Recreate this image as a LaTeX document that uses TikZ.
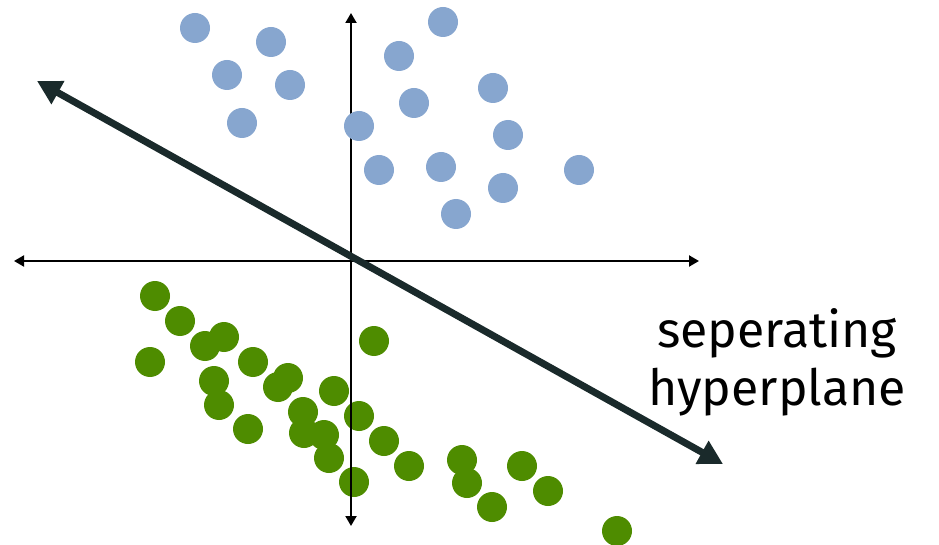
\documentclass[tikz,border=0pt]{standalone}
\usepackage{fontspec}
\setmainfont{Fira Sans}
\usetikzlibrary{arrows.meta}
\definecolor{bluedot}{HTML}{87A6CF}
\definecolor{greendot}{HTML}{4E8C00}
\definecolor{hyper}{HTML}{1A2A2B}
\tikzset{
  bdot/.style={circle,fill=bluedot,inner sep=0pt,minimum size=30pt},
  gdot/.style={circle,fill=greendot,inner sep=0pt,minimum size=30pt},
  axisline/.style={line width=2pt,-{Triangle[length=10pt,width=11pt]}},
  hyperline/.style={line width=7pt,color=hyper,{Triangle[length=24pt,width=25pt]}-{Triangle[length=24pt,width=25pt]}},
  labeltext/.style={align=center,font=\fontsize{50pt}{58pt}\selectfont}
}
\begin{document}
\begin{tikzpicture}[x=1pt,y=-1pt]
\useasboundingbox (0,0) rectangle (939,545);
% green dots
\foreach \i/\p in {1/{155,296},2/{180,321},3/{205,346},4/{224,337},5/{150,362},6/{253,362},7/{214,381},8/{219,405},9/{248,429},10/{278,387},11/{288,378},12/{334,391},13/{374,341},14/{303,412},15/{304,433},16/{324,435},17/{329,458},18/{359,416},19/{354,482},20/{384,441},21/{409,466},22/{462,460},23/{467,483},24/{522,466},25/{548,491},26/{492,507},27/{617,531}}
  \node[gdot] (g\i) at (\p) {};
% axes
\coordinate (o) at (351,261);
\coordinate (xl) at (14,261);
\coordinate (xr) at (699,261);
\coordinate (yt) at (351,13);
\coordinate (yb) at (351,526);
\draw[axisline] (o) -- (xl);
\draw[axisline] (o) -- (xr);
\draw[axisline] (o) -- (yt);
\draw[axisline] (o) -- (yb);
% hyperplane
\coordinate (h1) at (37,81);
\coordinate (h2) at (723,464);
\draw[hyperline] (h1) -- (h2);
% blue dots
\foreach \i/\p in {1/{195,28},2/{271,42},3/{227,75},4/{290,85},5/{242,123},6/{359,126},7/{399,56},8/{443,22},9/{414,103},10/{379,170},11/{441,167},12/{456,214},13/{493,88},14/{508,135},15/{503,188},16/{579,170}}
  \node[bdot] (b\i) at (\p) {};
\node[labeltext] (lbl) at (777,362) {seperating\\hyperplane};
\end{tikzpicture}
\end{document}
